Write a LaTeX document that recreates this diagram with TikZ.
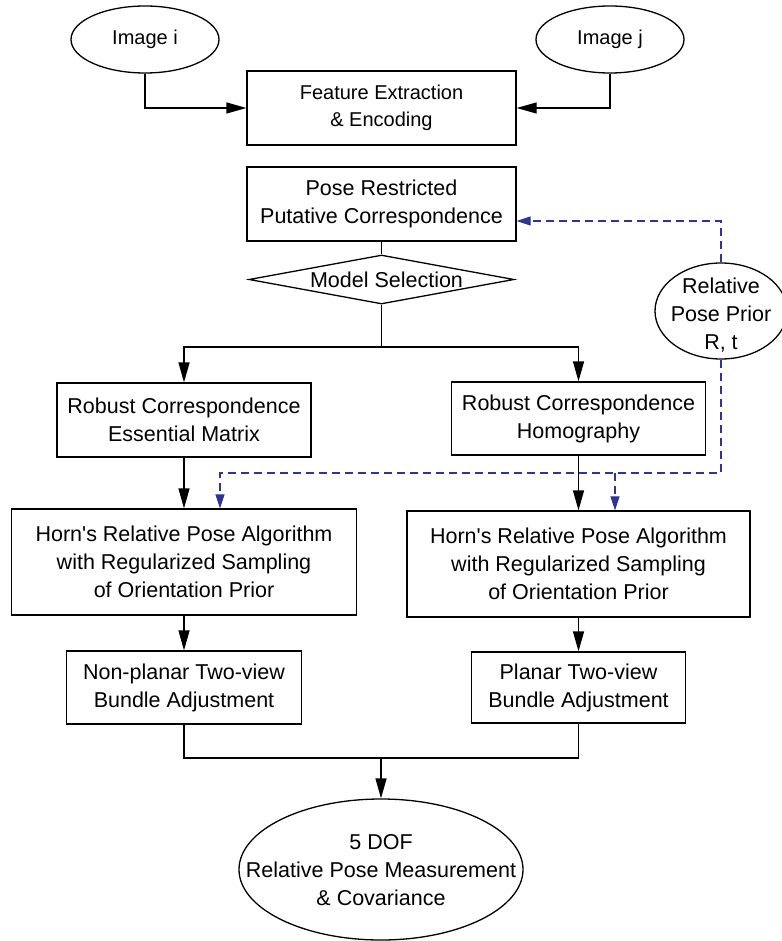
\documentclass[tikz,border=0pt]{standalone}
\usepackage{fontspec}
\setmainfont{Liberation Sans}[Ligatures=TeXOff]
\usepackage{xcolor}
\usepackage{tikz}
\usetikzlibrary{positioning, calc, shapes.geometric, arrows.meta}
\definecolor{priorblue}{RGB}{48,52,150}

\begin{document}
\begin{tikzpicture}[x=1pt, y=-1pt,
  every node/.style={font=\fontsize{21.5}{28}\selectfont, align=center, inner sep=0pt},
  box/.style={draw, line width=1.3pt, rectangle},
  oval/.style={draw, line width=1.3pt, ellipse},
  decide/.style={draw, line width=1.3pt, diamond},
  wire/.style={line width=1.3pt},
  flow/.style={wire, -{Triangle[length=20pt, width=11pt]}},
  priorline/.style={priorblue, line width=1.2pt, dash pattern=on 8pt off 5pt, -{Triangle[length=14pt, width=9pt]}}]
  \useasboundingbox (0,0) rectangle (781,941);
  % Inputs
  \node[oval, minimum width=148pt, minimum height=67pt, font=\fontsize{20}{26}\selectfont] (imgi) at (145,39.5) {Image i};
  \node[oval, minimum width=148pt, minimum height=67pt, font=\fontsize{20}{26}\selectfont] (imgj) at (610,39.5) {Image j};
  \node[box, minimum width=269pt, minimum height=74pt, font=\fontsize{20}{27}\selectfont] (feat) at (381.5,108) {Feature Extraction\\\& Encoding};
  \node[box, minimum width=269pt, minimum height=74pt] (pose) at (381.5,204) {Pose Restricted\\Putative Correspondence};
  \node[decide, minimum width=265pt, minimum height=49pt, label={[xshift=5pt]center:Model Selection}] (sel) at (381.5,279.5) {};
  % Prior
  \node[oval, minimum width=132pt, minimum height=96pt, label={[yshift=-4pt]center:{Relative\\Pose Prior\\R, t}}] (prior) at (721,311) {};
  % Two branches
  \node[box, minimum width=254pt, minimum height=74pt] (robe) at (184,420) {Robust Correspondence\\Essential Matrix};
  \node[box, minimum width=254pt, minimum height=73pt] (robh) at (578.5,418.5) {Robust Correspondence\\Homography};
  \node[box, minimum width=345pt, minimum height=106pt] (horne) at (184,562) {Horn's Relative Pose Algorithm\\with Regularized Sampling\\of Orientation Prior};
  \node[box, minimum width=343pt, minimum height=106pt] (hornh) at (578.5,564) {Horn's Relative Pose Algorithm\\with Regularized Sampling\\of Orientation Prior};
  \node[box, minimum width=235pt, minimum height=73pt] (bae) at (184,687.5) {Non-planar Two-view\\Bundle Adjustment};
  \node[box, minimum width=214pt, minimum height=71pt] (bah) at (578.5,687.5) {Planar Two-view\\Bundle Adjustment};
  % Output
  \node[oval, minimum width=284pt, minimum height=141pt, label={[yshift=-1pt]center:{5 DOF\\Relative Pose Measurement\\\& Covariance}}] (out) at (381,869.5) {};
  % Flow
  \draw[flow] (imgi) |- (feat);
  \draw[flow] (imgj) |- (feat);
  \draw[wire] (pose) -- (sel);
  \coordinate (split) at (381.5,347);
  \draw[wire] (sel) -- (split);
  \draw[flow] (split) -| (robe);
  \draw[flow] (split) -| (robh);
  \draw[flow] (robe) -- (horne);
  \draw[flow] (robh) -- (hornh);
  \draw[flow] (horne) -- (bae);
  \draw[flow] (hornh) -- (bah);
  \coordinate (join) at (381,758);
  \draw[wire] (bae) |- (join);
  \draw[wire] (bah) |- (join);
  \draw[flow] (join) -- (out);
  % Prior feeds
  \draw[priorline] (prior) |- ($(pose.east)+(0,17)$);
  \coordinate (tapl) at (220,473);
  \coordinate (tapr) at (615,473);
  \draw[priorline] (prior) |- (tapl) -- (tapl |- horne.north);
  \draw[priorline] (tapr) -- (tapr |- hornh.north);
\end{tikzpicture}
\end{document}
